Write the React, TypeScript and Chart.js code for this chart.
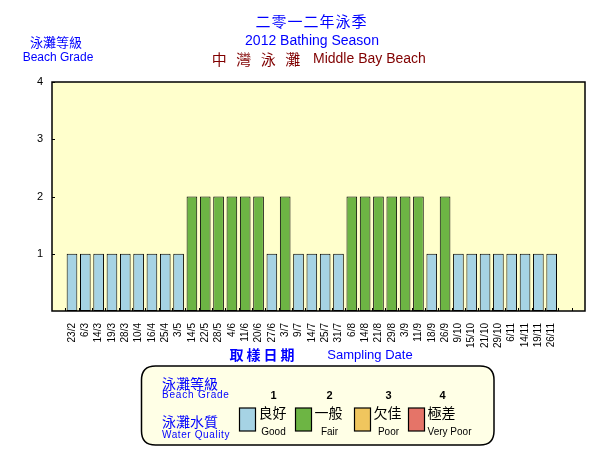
import React, { useEffect, useRef } from "react";
import { Chart, registerables } from "chart.js";

Chart.register(...registerables);

const sampleDates = [
  "23/2", "6/3", "14/3", "19/3", "28/3", "10/4", "16/4", "25/4", "3/5",
  "14/5", "22/5", "28/5", "4/6", "11/6", "20/6", "27/6", "3/7", "9/7",
  "14/7", "25/7", "31/7", "6/8", "14/8", "21/8", "29/8", "3/9", "11/9",
  "18/9", "26/9", "9/10", "15/10", "21/10", "29/10", "6/11", "14/11",
  "19/11", "26/11",
];
const gradeValues = [
  1, 1, 1, 1, 1, 1, 1, 1, 1,
  2, 2, 2, 2, 2, 2, 1, 2, 1,
  1, 1, 1, 2, 2, 2, 2, 2, 2,
  1, 2, 1, 1, 1, 1, 1, 1,
  1, 1,
];
const yTicks = [1, 2, 3, 4];
const gradeNums = ["1", "2", "3", "4"];
const gradeZh = ["良好", "一般", "欠佳", "極差"];
const gradeEn = ["Good", "Fair", "Poor", "Very Poor"];
const gradeColors = ["#A6D3E4", "#6DB544", "#F0C65E", "#E57468"];

const categories = ["", ...sampleDates, "", ""];
const values: (number | null)[] = [null, ...gradeValues, null, null];

const CJK = '"Noto Sans CJK TC", "Noto Sans CJK SC", sans-serif';
const LAT = '"Liberation Sans", Arial, sans-serif';

function spaced(ctx: CanvasRenderingContext2D, text: string, x: number, y: number, step: number) {
  const chars = Array.from(text);
  const total = step * (chars.length - 1);
  chars.forEach((c, i) => ctx.fillText(c, x - total / 2 + i * step, y));
}

function roundRect(ctx: CanvasRenderingContext2D, x: number, y: number, w: number, h: number, r: number) {
  ctx.beginPath();
  ctx.moveTo(x + r, y);
  ctx.lineTo(x + w - r, y);
  ctx.quadraticCurveTo(x + w, y, x + w, y + r);
  ctx.lineTo(x + w, y + h - r);
  ctx.quadraticCurveTo(x + w, y + h, x + w - r, y + h);
  ctx.lineTo(x + r, y + h);
  ctx.quadraticCurveTo(x, y + h, x, y + h - r);
  ctx.lineTo(x, y + r);
  ctx.quadraticCurveTo(x, y, x + r, y);
  ctx.closePath();
}

const decor = {
  id: "decor",
  beforeDraw(chart: any) {
    const { ctx, chartArea: a } = chart;
    ctx.save();
    ctx.fillStyle = "#ffffff";
    ctx.fillRect(0, 0, chart.width, chart.height);
    ctx.fillStyle = "#FFFFCC";
    ctx.fillRect(a.left, a.top, a.right - a.left, a.bottom - a.top);
    ctx.restore();
  },
  afterDraw(chart: any) {
    const { ctx, chartArea: a, scales } = chart;
    ctx.save();
    // frame
    ctx.strokeStyle = "#000";
    ctx.lineWidth = 1.5;
    ctx.strokeRect(a.left, a.top, a.right - a.left, a.bottom - a.top);
    // inward ticks
    ctx.lineWidth = 1;
    ctx.beginPath();
    yTicks.forEach((v) => {
      const y = Math.round(scales.y.getPixelForValue(v)) + 0.5;
      ctx.moveTo(a.left, y);
      ctx.lineTo(a.left + 3, y);
    });
    const n = categories.length;
    for (let i = 1; i < n; i++) {
      const x = Math.round((scales.x.getPixelForValue(i - 1) + scales.x.getPixelForValue(i)) / 2) + 0.5;
      ctx.moveTo(x, a.bottom);
      ctx.lineTo(x, a.bottom - 3);
    }
    ctx.stroke();

    ctx.textAlign = "center";
    ctx.textBaseline = "middle";
    // titles
    ctx.fillStyle = "#0000FF";
    ctx.font = `15px ${CJK}`;
    spaced(ctx, "二零一二年泳季", 311, 21, 16);
    ctx.font = `14px ${LAT}`;
    ctx.fillText("2012 Bathing Season", 312, 41);
    ctx.fillStyle = "#800000";
    ctx.font = `15px ${CJK}`;
    spaced(ctx, "中灣泳灘", 256, 59, 24.5);
    ctx.font = `14px ${LAT}`;
    ctx.textAlign = "left";
    ctx.fillText("Middle Bay Beach", 313, 59);
    ctx.textAlign = "center";
    // y title
    ctx.fillStyle = "#0000FF";
    ctx.font = `13px ${CJK}`;
    ctx.fillText("泳灘等級", 56, 42);
    ctx.font = `12px ${LAT}`;
    ctx.fillText("Beach Grade", 58, 58);
    // x title
    ctx.font = `bold 14px ${CJK}`;
    spaced(ctx, "取樣日期", 262, 355, 17);
    ctx.font = `13px ${LAT}`;
    ctx.fillText("Sampling Date", 370, 355);

    // legend box
    roundRect(ctx, 141.5, 366, 352.5, 79, 14);
    ctx.fillStyle = "#FFFFE6";
    ctx.fill();
    ctx.strokeStyle = "#000";
    ctx.lineWidth = 1.5;
    ctx.stroke();

    ctx.fillStyle = "#0000FF";
    ctx.textAlign = "left";
    ctx.font = `14px ${CJK}`;
    ctx.fillText("泳灘等級", 162, 384);
    ctx.fillText("泳灘水質", 162, 422);
    ctx.font = `10px ${LAT}`;
    (ctx as any).letterSpacing = "0.8px";
    ctx.fillText("Beach Grade", 162, 395.5);
    (ctx as any).letterSpacing = "0.6px";
    ctx.fillText("Water Quality", 162, 435.5);
    (ctx as any).letterSpacing = "0px";

    const swX = [239.5, 295.5, 354.5, 408.5];
    gradeNums.forEach((num, i) => {
      const sx = swX[i];
      ctx.fillStyle = gradeColors[i];
      ctx.fillRect(sx, 408, 16, 23);
      ctx.strokeStyle = "#000";
      ctx.lineWidth = 1.2;
      ctx.strokeRect(sx, 408, 16, 23);
      ctx.fillStyle = "#000";
      ctx.textAlign = "center";
      ctx.font = `bold 11px ${LAT}`;
      ctx.fillText(num, sx + 34, 395.5);
      ctx.font = `14px ${CJK}`;
      ctx.textAlign = "left";
      ctx.fillText(gradeZh[i], sx + 19, 413);
      ctx.textAlign = "center";
      ctx.font = `10px ${LAT}`;
      ctx.fillText(gradeEn[i], i === 3 ? sx + 41 : sx + 34, 432);
    });
    ctx.restore();
  },
};

export default function App() {
  const ref = useRef<HTMLCanvasElement | null>(null);
  useEffect(() => {
    document.body.style.margin = "0";
    const canvas = ref.current!;
    const chart = new Chart(canvas, {
      type: "bar",
      data: {
        labels: categories,
        datasets: [
          {
            data: values as any,
            backgroundColor: values.map((v) => (v ? gradeColors[v - 1] : "transparent")),
            borderColor: "#000",
            borderWidth: 1,
            borderSkipped: false,
            barPercentage: 0.8,
            categoryPercentage: 1,
          },
        ],
      },
      options: {
        animation: false,
        responsive: false,
        devicePixelRatio: 1,
        layout: { padding: { left: 0, top: 82, right: 17, bottom: 101 } },
        plugins: { legend: { display: false }, tooltip: { enabled: false }, title: { display: false } },
        scales: {
          x: {
            grid: { display: false },
            border: { display: false },
            ticks: {
              autoSkip: false,
              maxRotation: 90,
              minRotation: 90,
              padding: 4,
              color: "#000",
              font: { family: LAT, size: 10 },
            },
            afterFit: (s: any) => {
              s.height = 40;
            },
          },
          y: {
            min: 0,
            max: 4,
            grid: { display: false },
            border: { display: false },
            ticks: {
              stepSize: 1,
              padding: 1,
              color: "#000",
              font: { family: LAT, size: 11 },
              callback: (v: any) => (v === 0 ? "" : String(v)),
            },
            afterFit: (s: any) => {
              s.width = 52;
            },
          },
        },
      },
      plugins: [decor],
    });
    return () => chart.destroy();
  }, []);
  return <canvas ref={ref} width={602} height={452} style={{ display: "block", width: 602, height: 452 }} />;
}
